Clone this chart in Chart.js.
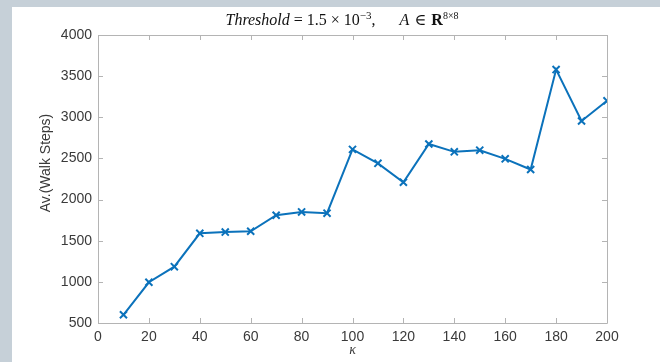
<!DOCTYPE html>
<html>
<head>
<meta charset="utf-8">
<script src="https://cdn.jsdelivr.net/npm/chart.js@4"></script>
<style>
  html, body { margin:0; padding:0; width:660px; height:362px; overflow:hidden; background:#c6d0d8; }
  #wrap { position:absolute; left:12px; top:7px; width:648px; height:355px; background:#ffffff; }
  canvas { display:block; }
</style>
</head>
<body>
<div id="wrap"><canvas id="c" width="648" height="355"></canvas></div>
<script>
const kappa = [10,20,30,40,50,60,70,80,90,100,110,120,130,140,150,160,170,180,190,200];
const walkSteps = [600,995,1185,1590,1605,1615,1810,1850,1835,2610,2440,2210,2675,2580,2600,2495,2365,3580,2955,3200];
const xTicks = [0,20,40,60,80,100,120,140,160,180,200];
const yTicks = [500,1000,1500,2000,2500,3000,3500,4000];
const xLabel = 'κ';
const yLabel = 'Av.(Walk Steps)';

const LINE = '#0b72bb';
const AXIS = '#b4b4b4';
const TXT = '#3a3a3a';

const decor = {
  id: 'decor',
  afterDatasetsDraw(chart) {
    const ctx = chart.ctx, a = chart.chartArea;
    const xs = chart.scales.x, ys = chart.scales.y;
    ctx.save();
    ctx.strokeStyle = AXIS; ctx.lineWidth = 1;
    ctx.beginPath();
    ctx.rect(Math.round(a.left)+0.5, Math.round(a.top)+0.5, Math.round(a.right-a.left), Math.round(a.bottom-a.top));
    ctx.stroke();
    ctx.beginPath();
    xTicks.forEach(v => {
      const px = Math.round(xs.getPixelForValue(v))+0.5;
      ctx.moveTo(px, a.bottom); ctx.lineTo(px, a.bottom-5);
      ctx.moveTo(px, a.top); ctx.lineTo(px, a.top+5);
    });
    yTicks.forEach(v => {
      const py = Math.round(ys.getPixelForValue(v))+0.5;
      ctx.moveTo(a.left, py); ctx.lineTo(a.left+5, py);
      ctx.moveTo(a.right, py); ctx.lineTo(a.right-5, py);
    });
    ctx.stroke();
    ctx.restore();
  },
  afterDraw(chart) {
    const ctx = chart.ctx, a = chart.chartArea;
    ctx.save();
    ctx.fillStyle = TXT;
    ctx.font = '14px "Liberation Sans", Arial, sans-serif';
    ctx.translate(34, 156);
    ctx.rotate(-Math.PI/2);
    ctx.textAlign = 'center'; ctx.textBaseline = 'middle';
    ctx.fillText(yLabel, 0, 0);
    ctx.restore();
    ctx.save();
    ctx.fillStyle = TXT;
    ctx.font = 'italic 14px "Liberation Serif", "DejaVu Serif", serif';
    ctx.textAlign = 'center'; ctx.textBaseline = 'middle';
    ctx.fillText(xLabel, (a.left+a.right)/2, 343);
    ctx.fillStyle = '#111';
    ctx.textBaseline = 'alphabetic';
    ctx.textAlign = 'left';
    const segs = [
      {t:'Threshold', f:'italic 16px "Liberation Serif", serif', dy:0},
      {t:' = 1.5 × 10', f:'16px "Liberation Serif", serif', dy:0},
      {t:'−3', f:'11px "Liberation Serif", serif', dy:-6},
      {t:',      ', f:'16px "Liberation Serif", serif', dy:0},
      {t:'A', f:'italic 16px "Liberation Serif", serif', dy:0},
      {t:' ∈ ', f:'16px "DejaVu Serif", serif', dy:0},
      {t:'R', f:'bold 16px "Liberation Serif", serif', dy:0},
      {t:'8×8', f:'10px "Liberation Serif", serif', dy:-6}
    ];
    let total = 0;
    segs.forEach(s => { ctx.font = s.f; s.w = ctx.measureText(s.t).width; total += s.w; });
    let x = 330 - total/2;
    segs.forEach(s => { ctx.font = s.f; ctx.fillText(s.t, x, 18 + s.dy); x += s.w; });
    ctx.restore();
  }
};

new Chart(document.getElementById('c'), {
  type: 'line',
  data: {
    datasets: [{
      data: kappa.map((k, i) => ({x: k, y: walkSteps[i]})),
      borderColor: LINE,
      backgroundColor: LINE,
      borderWidth: 2,
      pointStyle: 'crossRot',
      pointRadius: 5,
      pointBorderWidth: 2,
      pointBorderColor: LINE,
      tension: 0,
      fill: false
    }]
  },
  options: {
    responsive: false,
    devicePixelRatio: 1,
    animation: false,
    layout: { padding: { top: 28, right: 53, left: 0, bottom: 0 } },
    plugins: { legend: { display: false }, tooltip: { enabled: false }, title: { display: false } },
    scales: {
      x: {
        type: 'linear', min: 0, max: 200,
        afterBuildTicks(s) { s.ticks = xTicks.map(v => ({value: v})); },
        afterFit(s) { s.height = 39; },
        grid: { display: false, drawTicks: false },
        border: { display: false },
        ticks: { color: TXT, padding: 6, maxRotation: 0, autoSkip: false,
                 callback: v => String(v),
                 font: { family: '"Liberation Sans", Arial, sans-serif', size: 14 } }
      },
      y: {
        type: 'linear', min: 500, max: 4000,
        afterBuildTicks(s) { s.ticks = yTicks.map(v => ({value: v})); },
        afterFit(s) { s.width = 86; },
        grid: { display: false, drawTicks: false },
        border: { display: false },
        ticks: { color: TXT, padding: 6, autoSkip: false,
                 callback: v => String(v),
                 font: { family: '"Liberation Sans", Arial, sans-serif', size: 14 } }
      }
    }
  },
  plugins: [decor]
});
</script>
</body>
</html>
